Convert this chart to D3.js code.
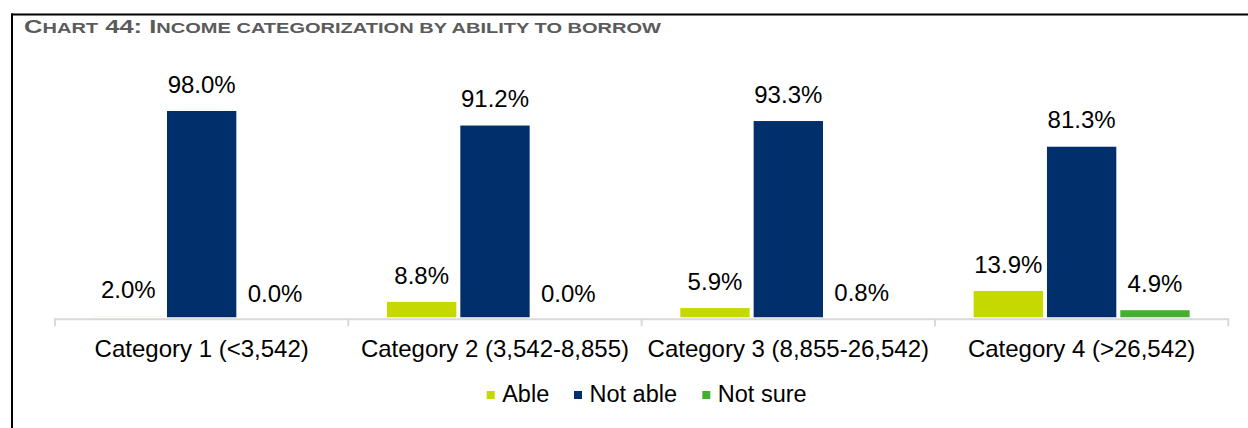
<!DOCTYPE html>
<html>
<head>
<meta charset="utf-8">
<script src="https://cdn.jsdelivr.net/npm/d3@7"></script>
<style>
  html, body { margin: 0; padding: 0; background: #fff; }
  svg { display: block; }
  text { font-family: "Liberation Sans", Arial, sans-serif; }
</style>
</head>
<body>
<svg id="chart" width="1248" height="428"></svg>
<script>
// Income categories (x axis)
const categories = ["Category 1 (<3,542)", "Category 2 (3,542-8,855)", "Category 3 (8,855-26,542)", "Category 4 (>26,542)"];
// Series names, in legend order
const seriesNames = ["Able", "Not able", "Not sure"];
// Share of respondents (%) per category
const able    = [2.0, 8.8, 5.9, 13.9];
const notAble = [98.0, 91.2, 93.3, 81.3];
const notSure = [0.0, 0.0, 0.8, 4.9];
// Title pieces: [text, isCapital]
const titleParts = [["C", true], ["HART", false], [" 44: ", true], ["I", true], ["NCOME CATEGORIZATION BY ABILITY TO BORROW", false]];

const colors = { "Able": "#c5d800", "Not able": "#002f6c", "Not sure": "#45b02f" };
const paleAble = "#f3f7da";

const svg = d3.select("#chart");

// Frame: left and top rules
svg.append("line").attr("x1", 12).attr("x2", 12).attr("y1", 13.5).attr("y2", 428)
  .attr("stroke", "#000").attr("stroke-width", 2);
svg.append("line").attr("x1", 11).attr("x2", 1248).attr("y1", 14.5).attr("y2", 14.5)
  .attr("stroke", "#000").attr("stroke-width", 2);

// Title in small capitals, spread to its column width
const title = svg.append("text").attr("x", 24).attr("y", 32.5)
  .attr("fill", "#5b5b5b").attr("font-weight", "bold");
titleParts.forEach(([t, cap]) => {
  title.append("tspan").attr("font-size", cap ? 18.5 : 14.5).text(t);
});
title.attr("textLength", 637).attr("lengthAdjust", "spacingAndGlyphs");

// Scales
const plotLeft = 55, plotRight = 1228.3;
const x0 = d3.scaleBand().domain(categories).range([plotLeft, plotRight]);
const groupW = 220;
const pad = 0.0545;
const x1 = d3.scaleBand().domain(seriesNames)
  .range([(x0.bandwidth() - groupW) / 2, (x0.bandwidth() + groupW) / 2])
  .paddingInner(pad).paddingOuter(pad / 2);
const y = d3.scaleLinear().domain([0, 100]).range([320.7, 106.7]);

const rows = categories.map((c, i) => ({
  category: c,
  values: [
    { key: "Able", value: able[i] },
    { key: "Not able", value: notAble[i] },
    { key: "Not sure", value: notSure[i] }
  ]
}));

// Bars stop just above the category axis
svg.append("clipPath").attr("id", "plotClip")
  .append("rect").attr("x", 0).attr("y", 0).attr("width", 1248).attr("height", 317.3);

const groups = svg.append("g").selectAll("g").data(rows).join("g")
  .attr("transform", d => `translate(${x0(d.category)},0)`);

groups.append("g").attr("clip-path", "url(#plotClip)")
  .selectAll("rect").data(d => d.values.map(v => ({ ...v, category: d.category }))).join("rect")
  .attr("x", d => x1(d.key))
  .attr("width", x1.bandwidth())
  .attr("y", d => y(d.value))
  .attr("height", d => y(0) - y(d.value))
  .attr("fill", d => (d.key === "Able" && d.category === categories[0]) ? paleAble : colors[d.key]);

// Value labels
groups.selectAll("text.val").data(d => d.values).join("text")
  .attr("class", "val")
  .attr("x", d => x1(d.key) + x1.bandwidth() / 2)
  .attr("y", d => y(d.value) - 18.3)
  .attr("text-anchor", "middle")
  .attr("font-size", 24)
  .attr("fill", "#000")
  .text(d => d.value.toFixed(1) + "%");

// Category axis
const axis = svg.append("g").attr("transform", "translate(0,319.3)")
  .call(d3.axisBottom(x0).tickSize(0).tickPadding(0).tickFormat(""));
axis.select(".domain").remove();
axis.append("line").attr("x1", plotLeft).attr("x2", plotRight)
  .attr("stroke", "#d9d9d9").attr("stroke-width", 2);
const boundaries = categories.map(c => x0(c)).concat([plotRight]);
axis.selectAll("line.sep").data(boundaries).join("line")
  .attr("class", "sep")
  .attr("x1", d => d).attr("x2", d => d)
  .attr("y1", -1).attr("y2", 7)
  .attr("stroke", "#d9d9d9").attr("stroke-width", 2);
axis.selectAll("text.cat").data(categories).join("text")
  .attr("class", "cat")
  .attr("x", d => x0(d) + x0.bandwidth() / 2)
  .attr("y", 37.9)
  .attr("text-anchor", "middle")
  .attr("font-size", 24)
  .attr("fill", "#000")
  .text(d => d);

// Legend
const legendX = [486.7, 574, 702.3];
const legend = svg.append("g").selectAll("g").data(seriesNames).join("g")
  .attr("transform", (d, i) => `translate(${legendX[i]},0)`);
legend.append("rect").attr("x", 0).attr("y", 391).attr("width", 8).attr("height", 8)
  .attr("fill", d => colors[d]);
legend.append("text").attr("x", 15.5).attr("y", 402.3)
  .attr("font-size", 23.5).attr("fill", "#000").text(d => d);
</script>
</body>
</html>
